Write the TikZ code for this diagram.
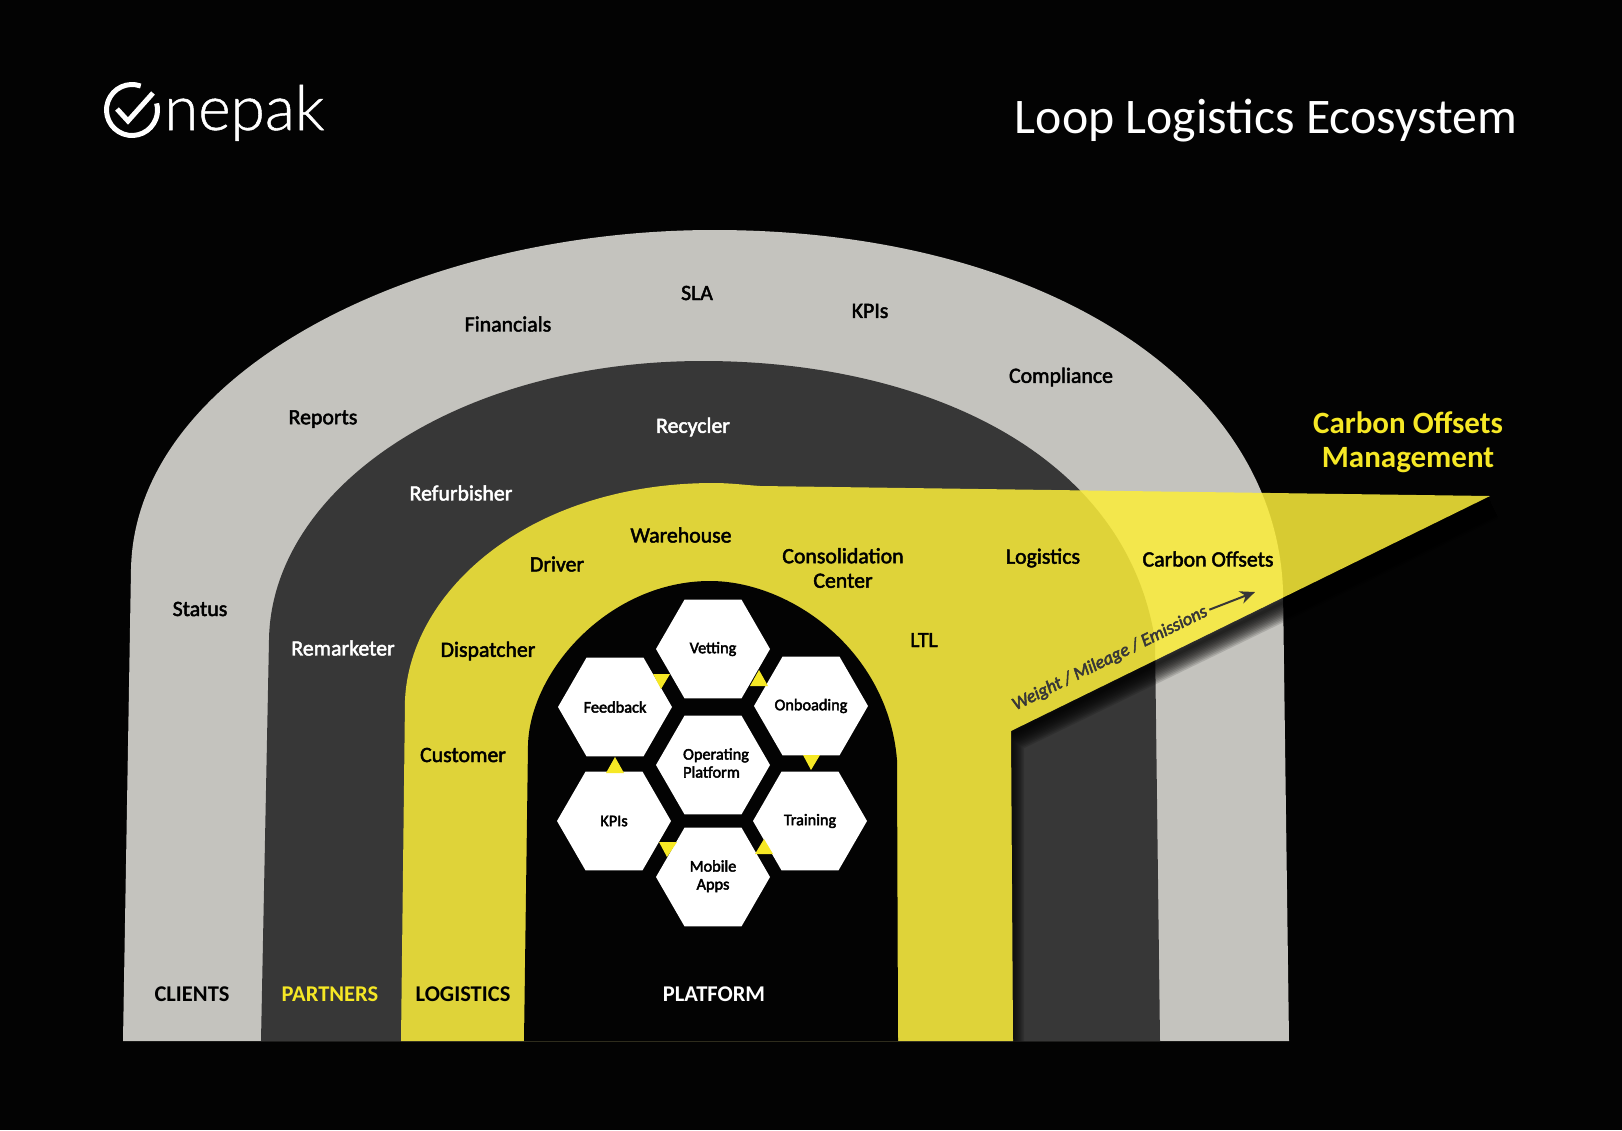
\documentclass[tikz,border=0pt]{standalone}
\usepackage{fontspec}
\usetikzlibrary{shapes.geometric,arrows.meta}
\setmainfont{Carlito}
\newfontfamily\medf{Carlito}[FakeBold=2.2]
\newfontfamily\hexf{Carlito}[FakeBold=2.6]
\newfontfamily\medi{Carlito Italic}[FakeBold=2.8]
\newfontfamily\logof{Lato Light}[FakeBold=0.8]
\definecolor{bg}{HTML}{030303}
\definecolor{archgray}{HTML}{C4C3BE}
\definecolor{archdark}{HTML}{373737}
\definecolor{yel}{HTML}{FBED3A}
\definecolor{tri}{HTML}{F6E825}
\newcommand\hx[1]{\makebox[0pt]{#1}}
\tikzset{
  x=1pt,y=-1pt,
  lbl/.style={font=\medf\fontsize{21.8}{24.5}\selectfont,text=black,inner sep=0pt,align=center},
  wlbl/.style={lbl,text=white},
  caplbl/.style={font=\bfseries\fontsize{22.5}{24}\selectfont,text=black,inner sep=0pt},
  hex/.style={regular polygon,regular polygon sides=6,minimum size=114pt,inner sep=0pt,outer sep=0pt,fill=white,
     font=\hexf\fontsize{16.3}{18}\selectfont,text=black},
  trig/.style={fill=tri},
}
\begin{document}
\begin{tikzpicture}
\fill[bg] (0,0) rectangle (1622,1130);
\useasboundingbox (0,0) rectangle (1622,1130);
% outer arch
\fill[archgray] (123,1041) -- (131,569) .. controls (135,370) and (420,230) .. (714,230)
  .. controls (1040,230) and (1275,380) .. (1283,590) -- (1289,1041) -- cycle;
% dark arch
\fill[archdark] (261,1041) -- (269,640) .. controls (271,490) and (455,361) .. (703,361)
  .. controls (920,361) and (1125,450) .. (1155,640) -- (1160,1041) -- cycle;
% shadow under the wedge
\begin{scope}
  \clip (1013,1041) -- (1011,731) -- (1490,496) -- (1622,496) -- (1622,1041) -- cycle;
  \foreach \w in {36,33,30,27,24,21,18,15,12,9,6,3}
    \draw[black,opacity=0.13,line width=\w pt,line join=round] (1006,1100) -- (1006,737) -- (1490,502);
\end{scope}
% yellow
\fill[yel,opacity=0.86] (401,1041) -- (405,700) .. controls (410,590) and (530,483) .. (714,483)
  .. controls (730,483) and (745,485) .. (760,486) -- (1490,496) -- (1011,731) -- (1013,1041) -- cycle;
% inner black
\fill[bg] (524,1041) -- (528,745) .. controls (530,670) and (610,581) .. (710,581)
  .. controls (790,581) and (888,650) .. (897,760) -- (898,1041) -- cycle;
% hexagons
\node[hex] (vet) at (713,649) {\hx{Vetting}};
\node[hex] (fee) at (615,707) {\hx{\raisebox{-2pt}{Feedback}}};
\node[hex] (onb) at (811,706) {\hx{\raisebox{1pt}{Onboading}}};
\node[hex] (opp) at (713,765) {\hx{\hspace*{6pt}\raisebox{-3pt}{\begin{tabular}{@{}l@{}}Operating\\Platform\end{tabular}}}};
\node[hex] (kpi) at (614,821) {\hx{KPIs}};
\node[hex] (tra) at (810,821) {\hx{Training}};
\node[hex] (mob) at (713,877) {\hx{\raisebox{-1pt}{\begin{tabular}{@{}c@{}}Mobile\\Apps\end{tabular}}}};
% triangles
\fill[trig] (653,674) -- (670,674) -- (661,689) -- cycle;
\fill[trig] (750,686) -- (768,686) -- (759,670) -- cycle;
\fill[trig] (803,755) -- (820,755) -- (811,770) -- cycle;
\fill[trig] (606,773) -- (624,773) -- (615,757) -- cycle;
\fill[trig] (659,842) -- (677,842) -- (667,857) -- cycle;
\fill[trig] (755,854) -- (773,854) -- (764,839) -- cycle;
% labels
\node[lbl] (status) at (200,609) {Status};
\node[lbl] (reports) at (323,419) {Reports};
\node[lbl] (fin) at (508,324) {Financials};
\node[lbl] (sla) at (697,293) {SLA};
\node[lbl] (kpis) at (870,311) {KPIs};
\node[lbl] (comp) at (1061,377) {Compliance};
\node[wlbl] (rec) at (693,427) {Recycler};
\node[wlbl] (ref) at (461,493) {Refurbisher};
\node[wlbl] (rem) at (343,648) {Remarketer};
\node[lbl] (drv) at (557,564) {Driver};
\node[lbl] (wh) at (681,535) {Warehouse};
\node[lbl] (con) at (843,568) {Consolidation\\Center};
\node[lbl] (log) at (1043,558) {Logistics};
\node[lbl] (cof) at (1208,559) {Carbon Offsets};
\node[lbl] (dis) at (488,651) {Dispatcher};
\node[lbl] (cus) at (463,755) {Customer};
\node[lbl] (ltl) at (924,640) {LTL};
\node[caplbl] (c1) at (192,994) {CLIENTS};
\node[caplbl,text=tri] (c2) at (330,994) {PARTNERS};
\node[caplbl] (c3) at (463,994) {LOGISTICS};
\node[caplbl,text=white] (c4) at (714,994) {PLATFORM};
\node[font=\bfseries\fontsize{31}{34.5}\selectfont,text=tri,align=center,inner sep=0pt] (cm) at (1408,442) {Carbon Offsets\\Management};
\node[font=\medi\fontsize{18.2}{22}\selectfont,text=archdark,rotate=26.3,inner sep=0pt] (wme) at (1110,658.5) {Weight / Mileage / Emissions};
\coordinate (arrowend) at (1255,592);
\draw[archdark,line width=2pt,shorten <=3pt,-{Stealth[length=15pt,width=13pt]}] (wme.east) -- (arrowend);
% title & logo
\node[font=\fontsize{49.8}{54}\selectfont,text=white,inner sep=0pt] (title) at (1266,121) {Loop Logistics Ecosystem};
\draw[white,line width=5pt] (132,110) ++(-70:25.5) arc[start angle=-70,end angle=-375,radius=25.5];
\draw[white,line width=5pt,line join=miter] (117,109) -- (128,121) -- (153,93);
\node[font=\logof\fontsize{62}{62}\selectfont,text=white,inner sep=0pt,anchor=base west] (logo) at (164,130) {nepak};
\end{tikzpicture}
\end{document}
